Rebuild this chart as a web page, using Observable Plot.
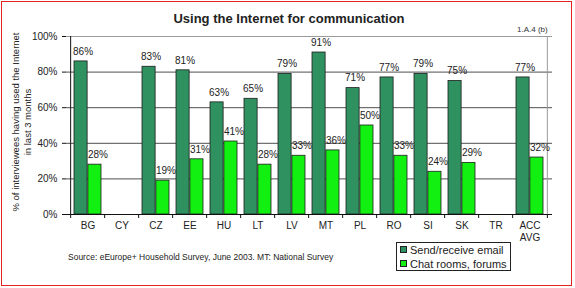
<!DOCTYPE html>
<html>
<head>
<meta charset="utf-8">
<script src="https://cdn.jsdelivr.net/npm/d3@7"></script>
<script src="https://cdn.jsdelivr.net/npm/@observablehq/plot@0.6"></script>
<style>
  html, body { margin: 0; padding: 0; background: #fff; }
  #wrap { position: relative; width: 575px; height: 288px; overflow: hidden; font-family: Arial, "Liberation Sans", sans-serif; color: #222; }
  #border { position: absolute; left: 1px; top: 1px; width: 569px; height: 283px; border: 1.5px solid #e42222; }
  #title { position: absolute; left: 0; width: 578px; top: 11px; text-align: center; font-weight: bold; font-size: 13px; }
  #code { position: absolute; left: 517px; top: 25px; font-size: 8px; color: #333; }
  #ylabel { position: absolute; left: 22px; top: 122px; width: 0; height: 0; }
  #ylabel div { position: absolute; transform: translate(-50%, -50%) rotate(-90deg); white-space: nowrap; font-size: 9.5px; text-align: center; line-height: 12px; }
  #source { position: absolute; left: 68px; top: 252px; font-size: 8.5px; color: #222; }
  #legend { position: absolute; left: 396px; top: 242px; width: 113px; height: 27px; border: 1px solid #222; font-size: 11px; }
  .item { position: absolute; left: 3px; display: flex; align-items: center; white-space: nowrap; }
  .sw { width: 5px; height: 5px; border: 0.8px solid #222; margin-right: 3px; }
  #chart { position: absolute; left: 0; top: 0; }
</style>
</head>
<body>
<div id="wrap">
  <div id="chart"></div>
  <div id="border"></div>
  <div id="title"></div>
  <div id="code"></div>
  <div id="ylabel"><div></div></div>
  <div id="source"></div>
  <div id="legend"></div>
</div>
<script>
const titleText = "Using the Internet for communication";
const codeText = "1.A.4 (b)";
const yLabelLines = ["% of interviewees having used the Internet", "in last 3 months"];
const sourceText = "Source: eEurope+ Household Survey, June 2003. MT: National Survey";
const categories = ["BG","CY","CZ","EE","HU","LT","LV","MT","PL","RO","SI","SK","TR","ACC AVG"];
const seriesNames = ["Send/receive email","Chat rooms, forums"];
const email = [86,null,83,81,63,65,79,91,71,77,79,75,null,77];
const chat  = [28,null,19,31,41,28,33,36,50,33,24,29,null,32];
const yTicks = [0,20,40,60,80,100];
const colors = ["#2f9160","#12f012"];

const W = 575, H = 288;
const mL = 66, mR = 23, mT = 36, mB = 74;
const step = (W - mL - mR) / categories.length;
const bw = step * 0.8;

const rows = categories.map((c, i) => ({category: c, email: email[i], chat: chat[i]}));
const emailRows = rows.filter(d => d.email != null);
const chatRows = rows.filter(d => d.chat != null);

const chart = Plot.plot({
  width: W, height: H,
  marginLeft: mL, marginRight: mR, marginTop: mT, marginBottom: mB,
  style: {fontFamily: "Arial, 'Liberation Sans', sans-serif", fontSize: "10px", background: "transparent", color: "#222", overflow: "visible"},
  x: {domain: categories, paddingInner: 0.2, paddingOuter: 0.1, align: 0.5, axis: null},
  y: {domain: [0, 100], axis: null},
  marks: [
    Plot.ruleY([20, 40, 60, 80], {stroke: "#222", strokeWidth: 0.8}),
    Plot.ruleY([100], {stroke: "#9a9a9a", strokeWidth: 1}),
    Plot.ruleX([categories[categories.length - 1]], {dx: step / 2, stroke: "#9a9a9a", strokeWidth: 1}),
    Plot.barY(emailRows, {x: "category", y: "email", fill: colors[0], stroke: "#1c1c1c", strokeWidth: 0.8, insetRight: bw / 2}),
    Plot.barY(chatRows, {x: "category", y: "chat", fill: colors[1], stroke: "#1c1c1c", strokeWidth: 0.8, insetLeft: bw / 2}),
    Plot.text(emailRows, {x: "category", y: "email", text: d => d.email + "%", dx: -bw / 4 + 2, dy: -10, fill: "#222", fontSize: 10}),
    Plot.text(chatRows, {x: "category", y: "chat", text: d => d.chat + "%", dx: bw / 4 + 3, dy: -10, fill: "#222", fontSize: 10}),
    Plot.ruleY([0], {stroke: "#111", strokeWidth: 1}),
    Plot.ruleX([categories[0]], {dx: -step / 2, stroke: "#111", strokeWidth: 1}),
    Plot.ruleX(categories, {x: d => d, dx: -step / 2, y1: 0, y2: 0, insetBottom: -4, stroke: "#111"}),
    Plot.ruleX([categories[categories.length - 1]], {dx: step / 2, y1: 0, y2: 0, insetBottom: -4, stroke: "#111"}),
    Plot.axisY({ticks: yTicks, tickFormat: d => d + "%", tickSize: 4, tickPadding: 5, label: null, stroke: "#111", fill: "#222", fontSize: 10}),
    Plot.axisX({tickSize: 0, tickPadding: 6, label: null, tickFormat: d => d.replace(" ", "\n"), fill: "#222", fontSize: 10, lineHeight: 1.2})
  ]
});
document.getElementById("chart").appendChild(chart);

document.getElementById("title").textContent = titleText;
document.getElementById("code").textContent = codeText;
document.querySelector("#ylabel div").innerHTML = yLabelLines.join("<br>");
document.getElementById("source").textContent = sourceText;
const legend = document.getElementById("legend");
seriesNames.forEach((name, i) => {
  const item = document.createElement("div");
  item.className = "item";
  item.style.top = (i * 14) + "px";
  item.style.height = "13px";
  const sw = document.createElement("span");
  sw.className = "sw";
  sw.style.background = colors[i];
  const t = document.createElement("span");
  t.textContent = name;
  item.appendChild(sw);
  item.appendChild(t);
  legend.appendChild(item);
});
</script>
</body>
</html>
